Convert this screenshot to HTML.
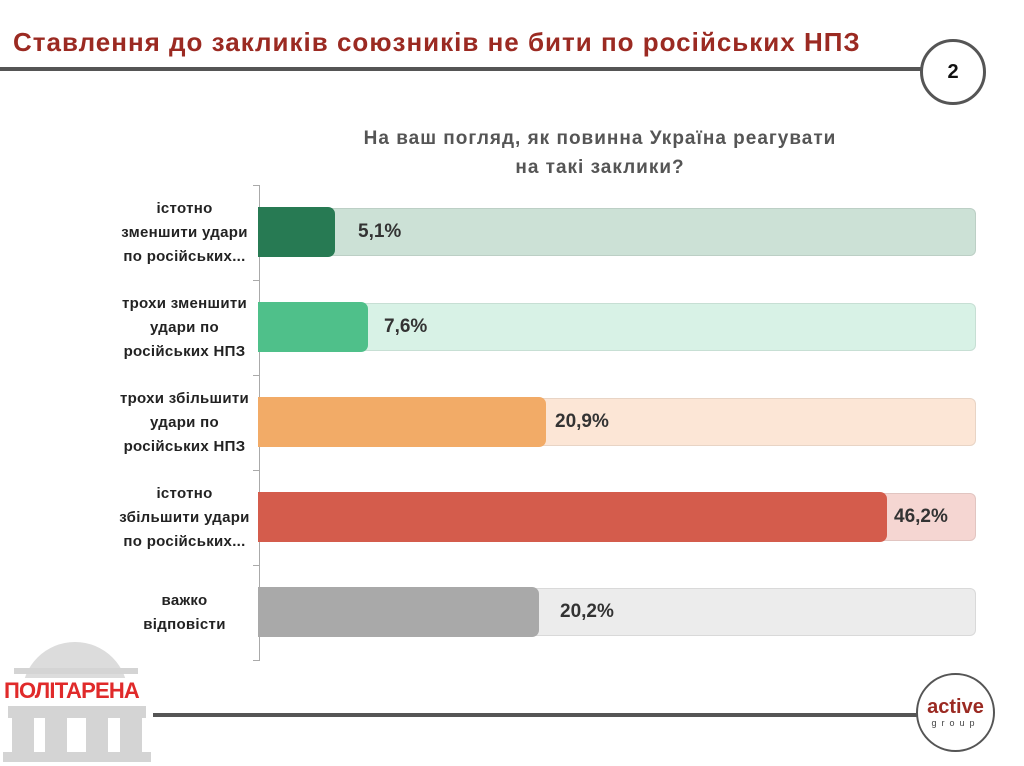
<!DOCTYPE html>
<html><head><meta charset="utf-8"><style>
body{margin:0;width:1024px;height:766px;position:relative;background:#fff;font-family:"Liberation Sans","DejaVu Sans",sans-serif;overflow:hidden}
.a{position:absolute}
.title{left:13px;top:27px;font-size:26px;font-weight:bold;color:#9b2a22;white-space:nowrap;letter-spacing:1px}
.q{left:250px;width:700px;top:124px;text-align:center;font-size:19px;font-weight:bold;color:#555;line-height:29px;letter-spacing:1px}
.lab{left:97px;width:175px;text-align:center;font-size:15px;font-weight:bold;color:#222;line-height:24px;letter-spacing:0.3px}
.bg{left:258px;width:716px;height:46px;border-radius:6px;border:1px solid rgba(0,0,0,0.08)}
.bar{left:258px;height:50px;border-radius:0 7px 7px 0}
.val{font-size:19px;font-weight:bold;color:#333}
.tick{left:253px;width:6px;height:1px;background:#aaa}
</style></head><body>
<div class="a title">Ставлення до закликів союзників не бити по російських НПЗ</div>
<div class="a" style="left:0;top:67px;width:924px;height:4px;background:#555"></div>
<div class="a" style="left:920px;top:39px;width:60px;height:60px;border:3px solid #555;border-radius:50%;background:#fff;text-align:center;line-height:60px;font-size:20px;font-weight:bold;color:#111">2</div>
<div class="a q">На ваш погляд, як повинна Україна реагувати<br>на такі заклики?</div>

<div class="a" style="left:259px;top:185px;width:1px;height:476px;background:#aaa"></div>
<div class="a tick" style="top:185px"></div><div class="a tick" style="top:280px"></div><div class="a tick" style="top:375px"></div><div class="a tick" style="top:470px"></div><div class="a tick" style="top:565px"></div><div class="a tick" style="top:660px"></div>

<div class="a lab" style="top:197px">істотно<br>зменшити удари<br>по російських...</div>
<div class="a bg" style="top:208px;background:#cce1d6"></div>
<div class="a bar" style="top:207px;width:77px;background:#277a53"></div>
<div class="a val" style="left:358px;top:221px">5,1%</div>

<div class="a lab" style="top:292px">трохи зменшити<br>удари по<br>російських НПЗ</div>
<div class="a bg" style="top:303px;background:#d8f2e6"></div>
<div class="a bar" style="top:302px;width:110px;background:#4fc08a"></div>
<div class="a val" style="left:384px;top:316px">7,6%</div>

<div class="a lab" style="top:387px">трохи збільшити<br>удари по<br>російських НПЗ</div>
<div class="a bg" style="top:398px;background:#fce6d6"></div>
<div class="a bar" style="top:397px;width:288px;background:#f2ab67"></div>
<div class="a val" style="left:555px;top:411px">20,9%</div>

<div class="a lab" style="top:482px">істотно<br>збільшити удари<br>по російських...</div>
<div class="a bg" style="top:493px;background:#f5d6d2"></div>
<div class="a bar" style="top:492px;width:629px;background:#d45c4c"></div>
<div class="a val" style="left:894px;top:506px">46,2%</div>

<div class="a lab" style="top:589px">важко<br>відповісти</div>
<div class="a bg" style="top:588px;background:#ececec"></div>
<div class="a bar" style="top:587px;width:281px;background:#a9a9a9"></div>
<div class="a val" style="left:560px;top:601px">20,2%</div>

<!-- logo -->
<div class="a" style="left:22px;top:642px;width:106px;height:53px;border-radius:53px 53px 0 0;background:#dcdcdc"></div>
<div class="a" style="left:14px;top:668px;width:124px;height:6px;background:#d4d4d4"></div>
<div class="a" style="left:4px;top:678px;font-size:22px;font-weight:bold;color:#e02a2a;letter-spacing:-0.8px;background:#fff;line-height:26px">ПОЛІТАРЕНА</div>
<div class="a" style="left:8px;top:706px;width:138px;height:12px;background:#d4d4d4"></div>
<div class="a" style="left:12px;top:718px;width:22px;height:38px;background:#d4d4d4"></div>
<div class="a" style="left:45px;top:718px;width:22px;height:38px;background:#d4d4d4"></div>
<div class="a" style="left:86px;top:718px;width:22px;height:38px;background:#d4d4d4"></div>
<div class="a" style="left:120px;top:718px;width:22px;height:38px;background:#d4d4d4"></div>
<div class="a" style="left:3px;top:752px;width:148px;height:10px;background:#d4d4d4"></div>

<div class="a" style="left:153px;top:713px;width:766px;height:4px;background:#555"></div>
<div class="a" style="left:916px;top:673px;width:75px;height:75px;border:2px solid #555;border-radius:50%;background:#fff"></div>
<div class="a" style="left:916px;top:697px;width:79px;text-align:center;font-size:20px;font-weight:bold;color:#9b2a22;line-height:20px">active</div>
<div class="a" style="left:916px;top:718px;width:79px;text-align:center;font-size:9px;color:#444;letter-spacing:5px">group</div>
</body></html>
